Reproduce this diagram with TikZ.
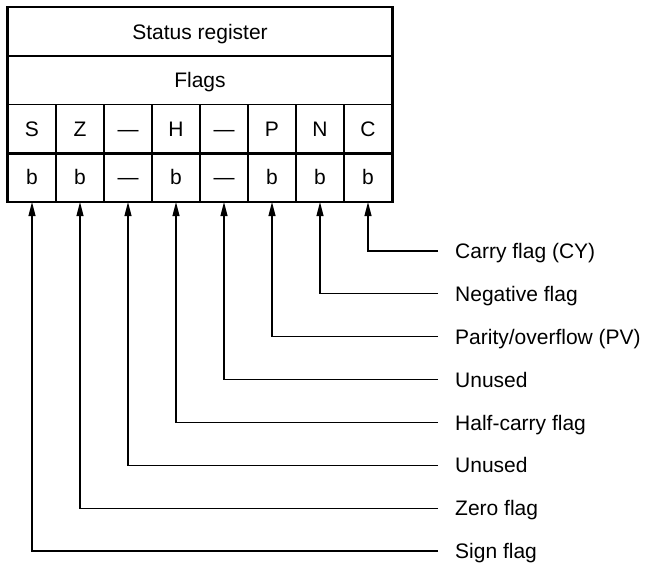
\documentclass[tikz,border=0pt]{standalone}
\usepackage{fontspec}
\setmainfont{Liberation Sans}
\usetikzlibrary{arrows.meta}
\begin{document}
\begin{tikzpicture}[x=1pt,y=-1pt,
  every node/.style={font=\fontsize{21}{25}\selectfont},
  cell/.style={draw,line width=1.2pt,minimum width=48pt,minimum height=48.5pt,inner sep=0pt,text height=15pt,text depth=0pt,anchor=center},
  wide/.style={cell,minimum width=384pt},
  lab/.style={anchor=base west,inner sep=0pt},
  conn/.style={line width=1.2pt,-{Triangle[length=14pt,width=7pt]}}]
\useasboundingbox (0,0) rectangle (646,563);
\node[wide] (status) at (200,31.75) {Status register};
\node[wide] (flags) at (200,80.25) {Flags};
\foreach \t [count=\i] in {S,Z,—,H,—,P,N,C}
  \node[cell] (n\i) at (-16+48*\i,128.75) {\t};
\foreach \t [count=\i] in {b,b,—,b,—,b,b,b}
  \node[cell] (b\i) at (-16+48*\i,177.25) {\t};
\draw[line width=2.4pt] (n1.south west) -- (n8.south east);
\draw[line width=2.6pt] (status.north west) rectangle (b8.south east);
\foreach \t/\c [count=\k from 0] in {{Carry flag (CY)}/8,{Negative flag}/7,{Parity/overflow (PV)}/6,{Unused}/5,{Half-carry flag}/4,{Unused}/3,{Zero flag}/2,{Sign flag}/1}{
  \coordinate (e\c) at (438,251+42.86*\k);
  \node[lab] (l\c) at (455,258.6+42.86*\k) {\t};
  \draw[conn] (e\c) -| (b\c.south);
}
\end{tikzpicture}
\end{document}
